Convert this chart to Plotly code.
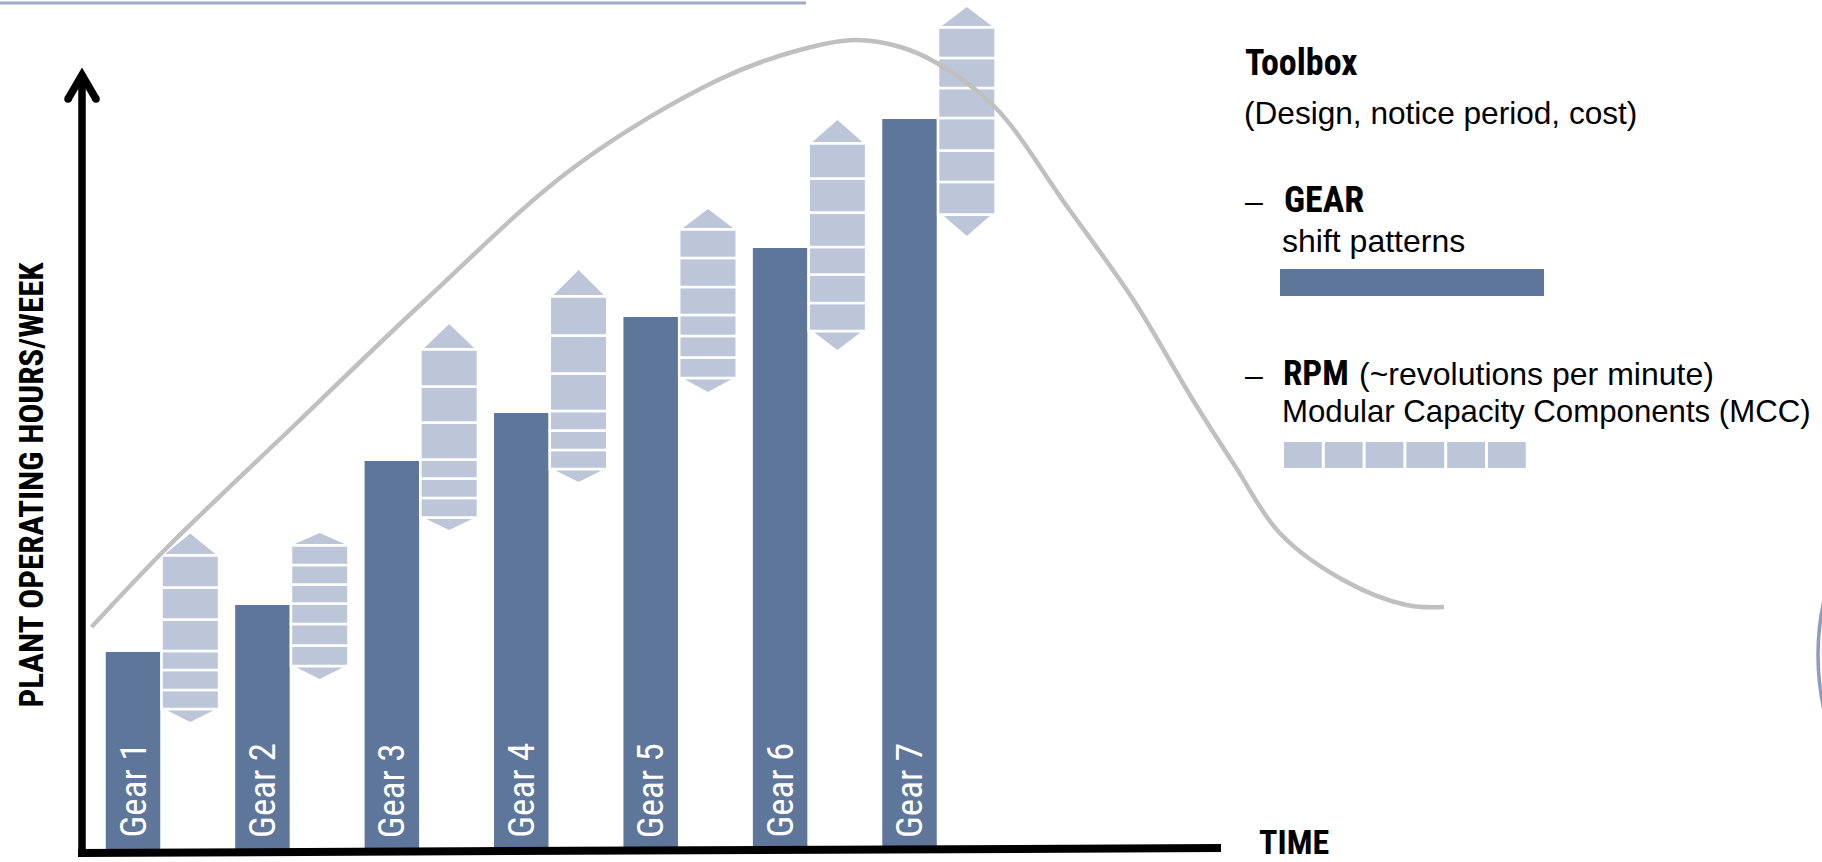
import plotly.graph_objects as go

W, H = 1822, 862

# ---------------- data ----------------
gear_labels = ["Gear 1", "Gear 2", "Gear 3", "Gear 4", "Gear 5", "Gear 6", "Gear 7"]
gear_time = [0, 1, 2, 3, 4, 5, 6]
gear_hours = [200, 247, 391, 439, 535, 604, 733]

# modular capacity components: bottom of each stack and its 6 boxes (bottom -> top)
mcc_bottom = [143, 186, 334.5, 383, 474, 521, 637.5]
mcc_boxes = [
    [19, 20, 19, 31.5, 32, 32],
    [20.5, 21.5, 20.5, 19, 19.5, 19.5],
    [19.5, 19.5, 19, 37, 36, 37],
    [19, 19.5, 19.5, 37.5, 38, 39],
    [20.5, 21.5, 21, 28, 29, 28.5],
    [28, 28.5, 27.5, 34.5, 34, 35],
    [32.5, 31.5, 32.5, 30, 30, 30.5],
]
mcc_arrow_up = [22, 12.5, 25.5, 26.5, 20.5, 23.5, 20.5]
mcc_arrow_down = [13, 13, 12.5, 13, 14, 19, 21.5]

# lifecycle curve (time, hours)
lifecycle_time = [-0.32, 0.26, 1.29, 2.26, 3.41, 4.52, 5.15, 5.58, 5.93, 6.21, 6.66,
                  7.22, 7.73, 8.19, 8.52, 8.86, 9.35, 9.84, 10.13]
lifecycle_hours = [225, 304, 432, 552, 685, 772, 802, 812, 805, 789, 745,
                   645, 552, 452, 385, 319, 272, 247, 245]

y_title = "PLANT OPERATING HOURS/WEEK"
x_title = "TIME"
legend_title = "Toolbox"
legend_sub = "(Design, notice period, cost)"
gear_head = "GEAR"
gear_desc = "shift patterns"
rpm_head = "RPM"
rpm_note = "(~revolutions per minute)"
rpm_desc = "Modular Capacity Components (MCC)"
mcc_count = 6

# ---------------- styles ----------------
DARK = "#5E7699"
LIGHT = "#BDC6D8"
CURVE = "#C0C0C0"
NARROW = "Liberation Sans Narrow, Arial Narrow, Roboto Condensed, Liberation Sans, Arial, sans-serif"
REG = "Liberation Sans, Arial, sans-serif"

X0_PX = 133.0      # pixel position of time 0
X_STEP = 129.42    # pixels per time unit
BAR_W = 54.5 / X_STEP
STACK_OFF = 57.3 / X_STEP
STACK_W = 57.5 / X_STEP
UP_W = 50 / X_STEP
DN_W = 46 / X_STEP
GAP = 1.5


def px(x):
    return x / W


def py(y):
    return 1 - y / H


fig = go.Figure()

# lifecycle curve
fig.add_trace(go.Scatter(x=lifecycle_time, y=lifecycle_hours, mode="lines",
                         line=dict(color=CURVE, width=4.5, shape="spline"),
                         hoverinfo="skip"))

# gear bars
fig.add_trace(go.Bar(x=gear_time, y=gear_hours, base=0, width=BAR_W,
                     marker=dict(color=DARK, line=dict(width=0)),
                     hoverinfo="skip"))

# MCC stacks
stack_x = [t + STACK_OFF for t in gear_time]
for level in range(6):
    heights = [mcc_boxes[i][level] for i in range(len(gear_time))]
    bases = [mcc_bottom[i] + sum(mcc_boxes[i][:level]) for i in range(len(gear_time))]
    fig.add_trace(go.Bar(x=stack_x, y=heights, base=bases, width=STACK_W,
                         marker=dict(color=LIGHT, line=dict(color="white", width=2.5)),
                         hoverinfo="skip"))

# arrows
ux, uy, dx, dy = [], [], [], []
for i, cx in enumerate(stack_x):
    top = mcc_bottom[i] + sum(mcc_boxes[i])
    bot = mcc_bottom[i]
    ux += [cx - UP_W / 2, cx, cx + UP_W / 2, cx - UP_W / 2, None]
    uy += [top + GAP, top + mcc_arrow_up[i], top + GAP, top + GAP, None]
    dx += [cx - DN_W / 2, cx, cx + DN_W / 2, cx - DN_W / 2, None]
    dy += [bot - GAP, bot - mcc_arrow_down[i], bot - GAP, bot - GAP, None]
for xs, ys in ((ux, uy), (dx, dy)):
    fig.add_trace(go.Scatter(x=xs, y=ys, mode="lines", fill="toself",
                             fillcolor=LIGHT, line=dict(width=0, color=LIGHT),
                             hoverinfo="skip"))

# ---------------- decorations ----------------
shapes = []
# top rule
shapes.append(dict(type="line", xref="paper", yref="paper", x0=px(0), y0=py(3), x1=px(806), y1=py(3),
                   line=dict(color="#9DABC9", width=3)))
# y axis with arrow
shapes.append(dict(type="line", xref="paper", yref="paper", x0=px(82), y0=py(857), x1=px(82), y1=py(74),
                   line=dict(color="black", width=7.5)))
shapes.append(dict(type="path", xref="paper", yref="paper",
                   path=f"M {px(68)},{py(99)} L {px(82)},{py(75)} L {px(96)},{py(99)}",
                   line=dict(color="black", width=7.5)))
for cxp in (68, 96):
    shapes.append(dict(type="circle", xref="paper", yref="paper",
                       x0=px(cxp - 3.75), x1=px(cxp + 3.75), y0=py(99 - 3.75), y1=py(99 + 3.75),
                       fillcolor="black", line=dict(width=0)))
# x axis
shapes.append(dict(type="line", xref="paper", yref="paper", x0=px(78), y0=py(853), x1=px(1221), y1=py(848),
                   line=dict(color="black", width=8)))
# legend swatches
shapes.append(dict(type="rect", xref="paper", yref="paper", x0=px(1280), x1=px(1544), y0=py(296), y1=py(269),
                   fillcolor=DARK, line=dict(width=0)))
sq_w, sq_gap = 37.8, 3.0
for k in range(mcc_count):
    x0 = 1284 + k * (sq_w + sq_gap)
    shapes.append(dict(type="rect", xref="paper", yref="paper", x0=px(x0), x1=px(x0 + sq_w),
                       y0=py(468), y1=py(442), fillcolor=LIGHT, line=dict(width=0)))
# partial circle at right edge
shapes.append(dict(type="circle", xref="paper", yref="paper", x0=px(1818), x1=px(2328),
                   y0=py(910), y1=py(400), line=dict(color="#8C9DC0", width=3.5)))

annotations = []


def txt(text, x, y, size, family, bold=False, anchor="left", color="black", angle=0):
    t = f"<b>{text}</b>" if bold else text
    annotations.append(dict(text=t, x=px(x), y=py(y), xref="paper", yref="paper",
                            xanchor=anchor, yanchor="middle", showarrow=False, textangle=angle,
                            font=dict(size=size, family=family, color=color)))


txt(y_title, 30.5, 485, 33, NARROW, bold=True, anchor="center", angle=-90)
txt(x_title, 1257, 842, 34, NARROW, bold=True)
txt(legend_title, 1243, 63.5, 36, NARROW, bold=True)
txt(legend_sub, 1242, 112.5, 31.6, REG)
txt("–", 1243, 201, 32, REG)
txt(gear_head, 1282, 199.5, 36, NARROW, bold=True)
txt(gear_desc, 1280, 241, 32, REG)
txt("–", 1243, 375, 32, REG)
txt(rpm_head, 1281, 373.5, 35, NARROW, bold=True)
txt(rpm_note, 1357, 373.5, 32, REG)
txt(rpm_desc, 1280, 411.5, 31.2, REG)

# gear labels inside bars
for t, lab in zip(gear_time, gear_labels):
    annotations.append(dict(text=lab, x=t, y=12, xref="x", yref="y", xanchor="center", yanchor="bottom",
                            textangle=-90, showarrow=False,
                            font=dict(size=37, family=NARROW, color="white")))

fig.update_layout(
    width=W, height=H, margin=dict(l=0, r=0, t=0, b=0),
    paper_bgcolor="white", plot_bgcolor="white",
    showlegend=False, barmode="overlay",
    xaxis=dict(range=[-X0_PX / X_STEP, (W - X0_PX) / X_STEP], visible=False, fixedrange=True),
    yaxis=dict(range=[-10, 852], visible=False, fixedrange=True),
    shapes=shapes, annotations=annotations,
)

fig.write_html("out.html", config={"displayModeBar": False, "staticPlot": True},
               post_script="document.body.style.margin='0';document.body.style.overflow='hidden';")
